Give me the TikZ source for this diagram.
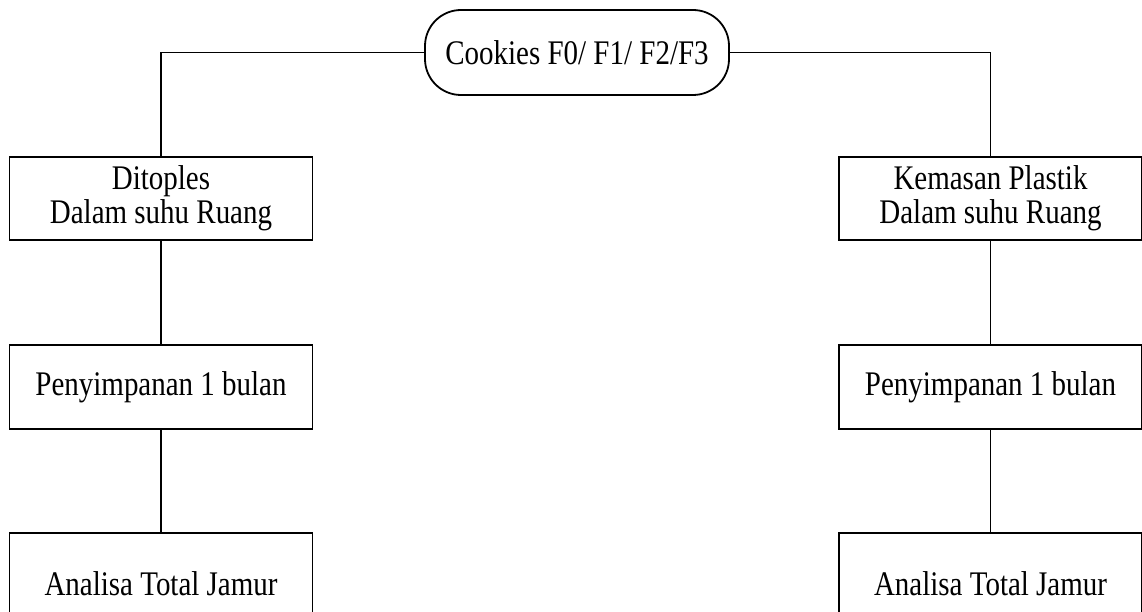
\documentclass[tikz,border=0pt]{standalone}
\usepackage{fontspec}
\setmainfont{Liberation Serif}[FakeStretch=0.84]
\begin{document}
\begin{tikzpicture}[x=1pt,y=-1pt,
  every node/.style={font=\fontsize{34.5}{34}\selectfont, align=center, inner sep=0pt},
  boxnode/.style={draw, line width=1.8pt, minimum width=303pt},
  pill/.style={draw, line width=1.8pt, rounded corners=36pt, minimum width=304pt, minimum height=85pt},
  link/.style={line width=1.8pt}]
\useasboundingbox (0,0) rectangle (1142,612);
\clip (0,0) rectangle (1142,612);
\fill[white] (0,0) rectangle (1142,612);
\node[pill] (top) at (577,52.5) {Cookies F0/ F1/ F2/F3};
\node[boxnode, minimum height=83pt] (L1) at (161,198.5) {Ditoples\\Dalam suhu Ruang};
\node[boxnode, minimum height=84pt] (L2) at (161,387) {Penyimpanan 1 bulan};
\node[boxnode, minimum height=102pt] (L3) at (161,584) {Analisa Total Jamur};
\node[boxnode, minimum height=83pt] (R1) at (990.5,198.5) {Kemasan Plastik\\Dalam suhu Ruang};
\node[boxnode, minimum height=84pt] (R2) at (990.5,387) {Penyimpanan 1 bulan};
\node[boxnode, minimum height=102pt] (R3) at (990.5,584) {Analisa Total Jamur};
\draw[link] (top.west) -| (L1.north);
\draw[link] (top.east) -| (R1.north);
\draw[link] (L1) -- (L2);
\draw[link] (L2) -- (L3);
\draw[link] (R1) -- (R2);
\draw[link] (R2) -- (R3);
\end{tikzpicture}
\end{document}
